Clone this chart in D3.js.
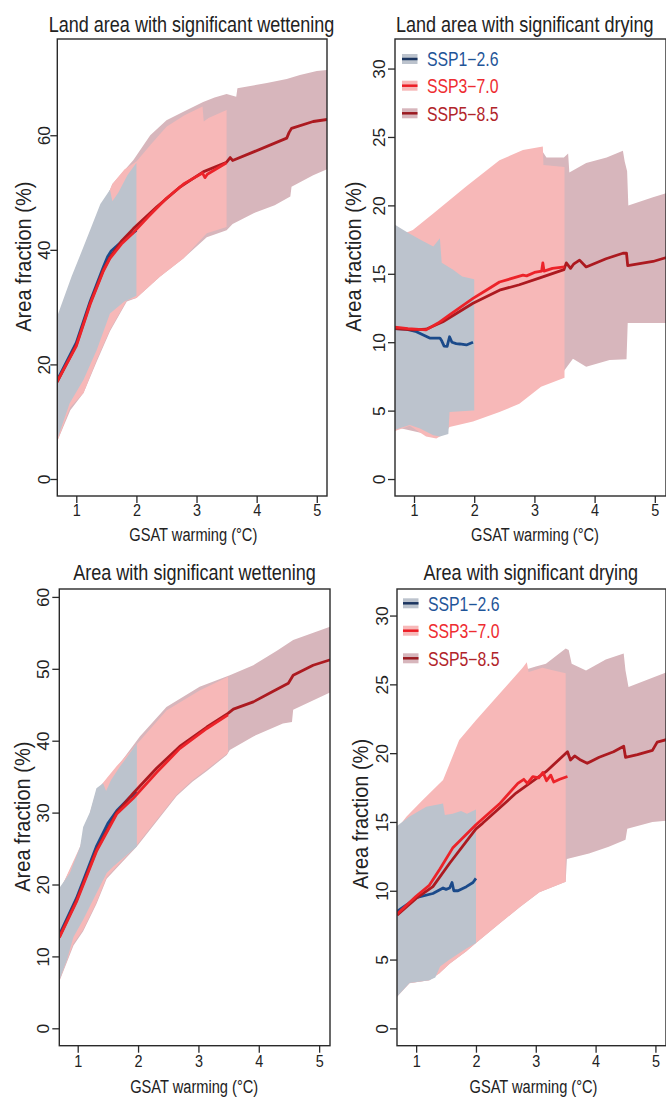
<!DOCTYPE html>
<html><head><meta charset="utf-8">
<script src="https://cdn.jsdelivr.net/npm/d3@7"></script>
<style>
body{margin:0;background:#fff}
svg{display:block}
text{font-family:"Liberation Sans",Arial,Helvetica,sans-serif;fill:#222}
</style>
</head><body>
<svg id="c" width="666" height="1097"></svg>
<script>
// ---------------- DATA ----------------
const scenarios = ["SSP1\u22122.6", "SSP3\u22127.0", "SSP5\u22128.5"];
const panelTitles = ["Land area with significant wettening", "Land area with significant drying",
                     "Area with significant wettening", "Area with significant drying"];
const xTicks = [1, 2, 3, 4, 5];
const yTicksLandWet = [0, 20, 40, 60];
const yTicksLandDry = [0, 5, 10, 15, 20, 25, 30];
const yTicksWet = [0, 10, 20, 30, 40, 50, 60];
const yTicksDry = [0, 5, 10, 15, 20, 25, 30];
const xLabel = "GSAT warming (\u00B0C)";
const yLabel = "Area fraction (%)";

// Panel 1: land area with significant wettening
const lw126Hi = [[0.68,28.3],[0.92,35.3],[1.1,40],[1.25,44],[1.4,48],[1.56,50.5],[1.6,48.5],[1.7,50],[1.85,53],[2.0,55.2]];
const lw126Lo = [[0.68,6.8],[0.89,13.2],[1.12,17.3],[1.34,22.5],[1.56,28.9],[1.8,31],[2.0,32]];
const lw370Hi = [[0.68,27.5],[1.0,33.5],[1.3,44],[1.6,51.5],[1.8,54],[2.0,55.4],[2.25,58.5],[2.5,61.5],[2.8,63.5],[3.1,65],[3.12,62.4],[3.2,63],[3.5,64.4]];
const lw370Lo = [[0.68,6.5],[0.9,12.5],[1.12,15],[1.34,20.8],[1.56,26],[1.84,31.2],[2.0,31.6],[2.39,35.3],[2.78,38.5],[3.17,42.9],[3.5,44.0]];
const lw585Hi = [[0.68,27],[1.0,34.5],[1.3,44],[1.6,51.5],[1.95,55.7],[2.23,60],[2.5,62.6],[2.84,64.4],[3.11,65.8],[3.3,66.6],[3.5,67.2],[3.66,66.7],[3.68,68.2],[4.17,69.1],[4.5,69.8],[4.72,70.5],[5.0,71.2],[5.2,71.4]];
const lw585Lo = [[0.68,6.5],[0.9,12],[1.12,15],[1.34,20.5],[1.56,25.8],[1.84,31],[2.0,31.6],[2.39,35.3],[2.78,38.5],[3.17,42.2],[3.5,43.4],[3.6,44.5],[3.95,46.4],[4.3,47.8],[4.56,49.3],[4.58,51],[4.94,53],[5.2,54.2]];
const lw126Mean = [[0.68,17.2],[1.0,23.8],[1.23,31.0],[1.45,37.0],[1.52,38.8],[1.58,39.8],[1.7,40.9],[1.85,42.3],[2.0,43.4]];
const lw370Mean = [[0.68,17.0],[1.0,23.2],[1.23,30.5],[1.45,36.3],[1.56,38.5],[1.75,41.0],[1.95,43.0],[2.2,45.8],[2.5,49.0],[2.8,51.6],[3.1,53.4],[3.14,52.6],[3.18,53.2],[3.5,55.2]];
const lw585Mean = [[0.68,16.9],[1.0,23.4],[1.23,30.7],[1.45,36.5],[1.56,38.7],[1.75,41.5],[1.95,43.7],[2.34,47.5],[2.73,51.0],[3.11,53.6],[3.5,55.3],[3.56,56.1],[3.6,55.6],[3.95,57.1],[4.5,59.5],[4.54,60.5],[4.58,61.2],[4.94,62.4],[5.2,62.8]];

// Panel 2: land area with significant drying
const ld126Hi = [[0.68,18.6],[0.75,18.4],[0.9,18.0],[1.1,17.5],[1.32,17.0],[1.43,17.6],[1.46,15.8],[1.65,15.3],[1.8,14.8],[2.0,14.6]];
const ld126Lo = [[0.68,3.6],[0.93,3.95],[1.1,3.7],[1.32,3.2],[1.43,3.1],[1.57,3.3],[1.59,4.9],[1.98,5.0],[2.0,5.0]];
const ld370Hi = [[0.68,18.3],[0.85,17.96],[0.98,18.2],[1.32,19.4],[1.87,21.4],[2.42,23.3],[2.81,24.05],[3.14,24.3],[3.15,22.95],[3.5,22.8]];
const ld370Lo = [[0.68,3.5],[0.93,3.9],[1.2,3.1],[1.37,2.97],[1.5,3.3],[1.59,3.8],[1.98,4.2],[2.42,4.9],[2.75,5.5],[3.11,6.75],[3.5,7.4]];
const ld585Hi = [[0.68,18],[1.0,18],[1.32,19],[1.87,21],[2.42,22.8],[2.81,23.6],[3.14,23.9],[3.2,23.5],[3.49,23.5],[3.56,23.8],[3.58,22.4],[3.86,23.1],[4.2,23.5],[4.47,24.0],[4.5,23.2],[4.54,22.5],[4.56,20.0],[4.97,20.6],[5.2,20.9]];
const ld585Lo = [[0.68,3.8],[1.2,3.3],[1.6,4.1],[2.0,4.5],[2.42,5.2],[2.75,5.8],[3.11,7.0],[3.2,7.2],[3.49,7.9],[3.64,8.8],[3.86,8.2],[4.25,8.7],[4.53,8.75],[4.55,11.4],[5.2,11.4]];
const ld126Mean = [[0.68,11.0],[0.87,10.95],[1.04,10.77],[1.26,10.3],[1.43,10.3],[1.46,10.1],[1.5,9.72],[1.55,9.7],[1.59,10.4],[1.63,10.0],[1.7,9.9],[1.76,9.87],[1.87,9.8],[1.98,10.0]];
const ld370Mean = [[0.68,11.1],[0.9,11.0],[1.2,10.9],[1.4,11.4],[1.59,12.0],[1.98,13.2],[2.2,13.8],[2.42,14.4],[2.81,14.9],[2.87,14.85],[3.0,15.1],[3.12,15.2],[3.14,15.8],[3.16,15.2],[3.3,15.4],[3.5,15.5]];
const ld585Mean = [[0.68,11.0],[0.98,10.9],[1.2,10.95],[1.48,11.5],[1.98,12.85],[2.42,13.8],[2.75,14.2],[3.09,14.7],[3.49,15.3],[3.53,15.8],[3.6,15.4],[3.65,15.7],[3.75,16.0],[3.86,15.5],[4.19,16.1],[4.47,16.5],[4.53,16.5],[4.55,15.6],[4.97,15.9],[5.2,16.2]];

// Panel 3: area with significant wettening
const w126Hi = [[0.695,19.5],[0.87,21.6],[1.04,25.3],[1.09,28.0],[1.2,30],[1.31,33.4],[1.42,34.1],[1.47,33.0],[1.55,34.5],[1.7,36.4],[1.98,39.6]];
const w126Lo = [[0.695,6.7],[0.82,9.5],[0.93,12.7],[1.09,15.1],[1.31,18.8],[1.48,21.6],[1.59,22.5],[1.98,25.3]];
const w370Hi = [[0.695,19],[1.04,25.3],[1.31,33],[1.5,35],[1.65,36.5],[2.03,40],[2.47,44.2],[3.02,47],[3.49,48.9]];
const w370Lo = [[0.695,6.6],[0.93,11.8],[1.09,13.7],[1.31,17.5],[1.48,21],[1.645,22.5],[1.98,25.5],[2.31,29],[2.64,32.5],[2.9,34.5],[3.14,36],[3.49,38.3]];
const w585Hi = [[0.695,19],[1.04,25],[1.31,33],[1.65,36.3],[2.03,40.6],[2.47,44.7],[3.02,47.5],[3.52,49.1],[3.91,50.5],[4.3,52.5],[4.57,54.0],[5.2,55.9]];
const w585Lo = [[0.695,6.5],[0.93,11.5],[1.09,13.5],[1.31,17.3],[1.48,20.8],[1.645,22.3],[1.98,25.3],[2.31,28.8],[2.64,32.3],[2.9,34.3],[3.14,35.8],[3.47,38.0],[3.52,38.7],[3.91,40.6],[4.4,42.4],[4.55,42.6],[4.57,44.3],[5.2,46.8]];
const w126Mean = [[0.695,13.0],[0.98,18.1],[1.31,25.3],[1.5,28.5],[1.65,30.3],[1.85,32.0],[1.98,32.8]];
const w370Mean = [[0.695,12.6],[0.98,17.6],[1.31,24.6],[1.645,29.8],[1.92,32.0],[2.31,35.6],[2.69,38.9],[3.14,41.7],[3.49,43.6]];
const w585Mean = [[0.695,12.7],[0.98,17.8],[1.31,24.8],[1.645,30.0],[1.92,32.7],[2.31,36.2],[2.69,39.2],[3.14,41.9],[3.49,43.8],[3.58,44.4],[3.91,45.4],[4.2,46.7],[4.49,48.0],[4.57,49.1],[4.9,50.5],[5.2,51.3]];

// Panel 4: area with significant drying
const d126Hi = [[0.68,14.7],[0.89,15.4],[1.17,16.1],[1.45,16.35],[1.48,15.5],[1.61,15.6],[1.75,15.8],[1.85,15.6],[2.0,15.9]];
const d126Lo = [[0.68,2.3],[0.89,3.3],[1.22,3.5],[1.32,3.7],[1.4,4.5],[1.56,5.0],[1.84,5.8],[2.0,6.2]];
const d370Hi = [[0.68,14.5],[0.84,15.4],[1.11,16.6],[1.45,18.05],[1.72,20.95],[2.0,22.4],[2.39,24.3],[2.78,26.2],[2.85,26.6],[2.88,25.9],[3.11,26.2],[3.3,26.0],[3.5,25.8]];
const d370Lo = [[0.68,2.3],[0.89,3.27],[1.22,3.5],[1.39,4.0],[1.56,4.7],[1.84,5.6],[2.0,6.2],[2.39,7.6],[2.73,8.8],[3.06,9.9],[3.5,10.65]];
const d585Hi = [[0.68,14.5],[0.84,15.2],[1.11,16.4],[1.45,17.8],[1.72,20.7],[2.0,22.2],[2.39,24.1],[2.78,26.0],[3.0,26.3],[3.17,26.5],[3.5,27.6],[3.55,27.5],[3.6,26.5],[3.84,26.0],[4.17,26.8],[4.47,27.25],[4.5,26.0],[4.55,24.8],[5.2,25.9]];
const d585Lo = [[0.68,2.4],[0.89,3.3],[1.22,3.5],[1.39,4.0],[1.56,4.7],[1.84,5.6],[2.0,6.2],[2.39,7.6],[2.73,8.8],[3.06,9.9],[3.5,10.65],[3.52,12.3],[3.89,12.7],[4.22,13.2],[4.5,13.7],[4.53,14.5],[4.95,15.0],[5.2,15.1]];
const d126Mean = [[0.68,8.5],[0.85,9.0],[1.0,9.5],[1.28,9.8],[1.45,10.2],[1.5,10.1],[1.56,10.2],[1.6,10.6],[1.63,10.0],[1.7,10.0],[1.84,10.3],[1.95,10.6],[2.0,10.9]];
const d370Mean = [[0.68,8.3],[1.0,9.6],[1.22,10.4],[1.4,11.6],[1.61,13.1],[2.0,14.8],[2.39,16.3],[2.7,17.8],[2.8,18.1],[2.86,17.8],[2.95,18.3],[3.05,18.2],[3.12,18.6],[3.18,18.0],[3.25,18.4],[3.3,17.9],[3.4,18.1],[3.53,18.3]];
const d585Mean = [[0.68,8.23],[1.0,9.45],[1.28,10.3],[1.56,12.0],[2.0,14.5],[2.11,14.9],[2.67,17.1],[3.17,18.65],[3.53,20.1],[3.58,19.5],[3.65,19.8],[3.75,19.5],[3.86,19.26],[4.06,19.7],[4.3,20.1],[4.47,20.5],[4.5,19.7],[4.7,19.9],[4.95,20.2],[5.03,20.8],[5.2,21.0]];

// ---------------- STYLE ----------------
const bandFill = ["#bcc3cd", "#f7b8b8", "#d7b6bc"];
const lineColor = ["#1b4a8a", "#ec2329", "#ac1a20"];
const legendText = ["#1f5598", "#ee2c31", "#b1242a"];
const legendLine = ["#1b3560", "#ec1c24", "#9a1a20"];

const panels = [
  {title: panelTitles[0], box:{l:57.3, r:327, t:39, b:496}, xd:[0.684,5.17], yd:[-2.97,76.8], yt: yTicksLandWet,
   bands:[[lw126Hi,lw126Lo],[lw370Hi,lw370Lo],[lw585Hi,lw585Lo]], means:[lw126Mean,lw370Mean,lw585Mean],
   tpos:[191.5,31.5], xlab:[193.3,540.7], ylab:[30.7,256.7], xtl:19.7, ytl:7.5, legend:null},
  {title: panelTitles[1], box:{l:395, r:666, t:39, b:496}, xd:[0.684,5.186], yd:[-1.24,32.16], yt: yTicksLandDry,
   bands:[[ld126Hi,ld126Lo],[ld370Hi,ld370Lo],[ld585Hi,ld585Lo]], means:[ld126Mean,ld370Mean,ld585Mean],
   tpos:[524.7,32], xlab:[535,540.5], ylab:[361.3,256.7], xtl:19.7, ytl:10.5, legend:{x:402, cy:[59,85.7,113.3]}},
  {title: panelTitles[2], box:{l:59.3, r:330, t:589, b:1045.7}, xd:[0.695,5.18], yd:[-2.42,61.1], yt: yTicksWet,
   bands:[[w126Hi,w126Lo],[w370Hi,w370Lo],[w585Hi,w585Lo]], means:[w126Mean,w370Mean,w585Mean],
   tpos:[194.5,580], xlab:[194.2,1092.5], ylab:[30,816.7], xtl:21, ytl:10, legend:null},
  {title: panelTitles[3], box:{l:397, r:666, t:589, b:1045.7}, xd:[0.68,5.177], yd:[-1.26,31.93], yt: yTicksDry,
   bands:[[d126Hi,d126Lo],[d370Hi,d370Lo],[d585Hi,d585Lo]], means:[d126Mean,d370Mean,d585Mean],
   tpos:[530.8,579.5], xlab:[533.5,1092.5], ylab:[368,814], xtl:21, ytl:9, legend:{x:403, cy:[603.3,630.7,658.3]}}
];

const svg = d3.select("#c");
svg.append("rect").attr("width",666).attr("height",1097).attr("fill","#fff");

function hText(g, x, y, str, size, sx, anchor, color){
  return g.append("text").attr("transform",`translate(${x},${y}) scale(${sx},1)`)
    .attr("font-size",size).attr("text-anchor",anchor||"middle").style("fill",color||"#222").text(str);
}
function vText(g, x, y, str, size, sl){
  return g.append("text").attr("transform",`translate(${x},${y}) rotate(-90) scale(${sl},1)`)
    .attr("font-size",size).attr("text-anchor","middle").text(str);
}

panels.forEach((p, i) => {
  const g = svg.append("g");
  const x = d3.scaleLinear().domain(p.xd).range([p.box.l, p.box.r]);
  const y = d3.scaleLinear().domain(p.yd).range([p.box.b, p.box.t]);
  const clipId = "clip" + i;
  svg.append("clipPath").attr("id", clipId).append("rect")
    .attr("x", p.box.l).attr("y", p.box.t).attr("width", p.box.r - p.box.l).attr("height", p.box.b - p.box.t);
  const plot = g.append("g").attr("clip-path", `url(#${clipId})`);
  const line = d3.line().x(d => x(d[0])).y(d => y(d[1]));

  // bands: SSP5-8.5 first, then SSP3-7.0, SSP1-2.6 on top
  [2,1,0].forEach(k => {
    const [hi, lo] = p.bands[k];
    const pts = hi.concat(lo.slice().reverse());
    plot.append("path").attr("d", line(pts) + "Z").attr("fill", bandFill[k]).attr("stroke","none");
  });
  // mean lines
  [0,2,1].forEach(k => {
    plot.append("path").attr("d", line(p.means[k])).attr("fill","none")
      .attr("stroke", lineColor[k]).attr("stroke-width", 2.8).attr("stroke-linejoin","round");
  });

  // frame
  g.append("rect").attr("x", p.box.l).attr("y", p.box.t).attr("width", p.box.r - p.box.l)
    .attr("height", p.box.b - p.box.t).attr("fill","none").attr("stroke","#2a2a2a").attr("stroke-width",1.4);

  // x axis
  const xa = g.append("g").attr("transform", `translate(0,${p.box.b})`)
    .call(d3.axisBottom(x).tickValues(xTicks).tickSize(7).tickFormat(d3.format("d")));
  xa.select(".domain").remove();
  xa.selectAll("line").attr("stroke","#2a2a2a").attr("stroke-width",1.3);
  xa.selectAll("text").attr("y",0).attr("dy",null).attr("font-size",16).style("fill","#222")
    .attr("font-family",null)
    .attr("transform",`translate(0,${p.xtl}) scale(0.9,1)`);

  // y axis
  const ya = g.append("g").attr("transform", `translate(${p.box.l},0)`)
    .call(d3.axisLeft(y).tickValues(p.yt).tickSize(7).tickFormat(d3.format("d")));
  ya.select(".domain").remove();
  ya.selectAll("line").attr("stroke","#2a2a2a").attr("stroke-width",1.3);
  ya.selectAll("text").attr("x",0).attr("dy",null).attr("font-size",16).style("fill","#222")
    .attr("text-anchor","middle").attr("font-family",null)
    .attr("transform",`translate(${-p.ytl},0) rotate(-90) scale(1.08,1)`);

  // titles
  hText(g, p.tpos[0], p.tpos[1], p.title, 22, 0.82, "middle", "#222");
  hText(g, p.xlab[0], p.xlab[1], xLabel, 19, 0.77, "middle", "#222");
  vText(g, p.ylab[0], p.ylab[1], yLabel, 22, 0.91);

  // legend
  if (p.legend) {
    scenarios.forEach((s, k) => {
      const cy = p.legend.cy[k];
      g.append("rect").attr("x", p.legend.x).attr("y", cy - 5).attr("width", 15.5).attr("height", 10).attr("fill", bandFill[k]);
      g.append("line").attr("x1", p.legend.x).attr("x2", p.legend.x + 15.5).attr("y1", cy).attr("y2", cy)
        .attr("stroke", legendLine[k]).attr("stroke-width", 2.5);
      hText(g, p.legend.x + 25, cy + 7.2, s, 19.5, 0.81, "start", legendText[k]);
    });
  }
});
</script>
</body></html>
